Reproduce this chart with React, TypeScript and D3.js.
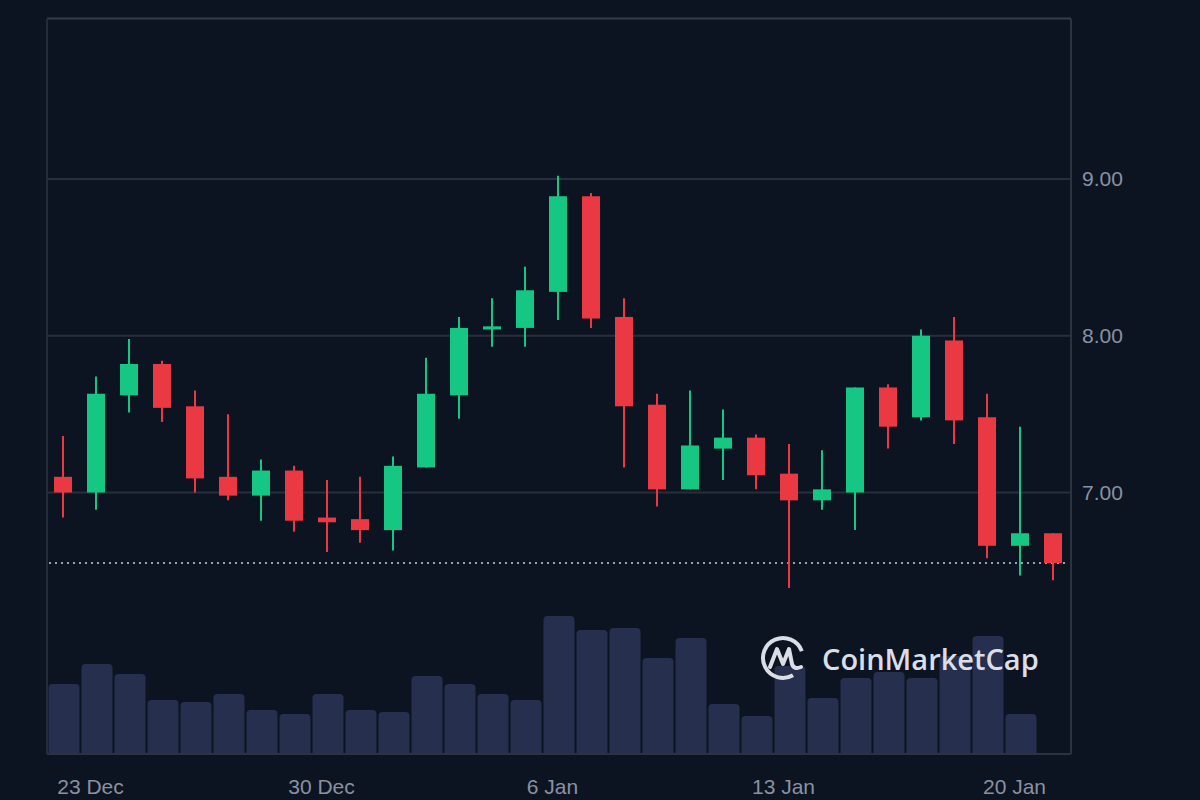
import { useEffect, useRef } from "react";
import * as d3 from "d3";

const width = 1200;
const height = 800;
const box = { left: 47, right: 1071, top: 18.5, bottom: 754 };

const days = [
  "2024-12-22", "2024-12-23", "2024-12-24", "2024-12-25", "2024-12-26", "2024-12-27",
  "2024-12-28", "2024-12-29", "2024-12-30", "2024-12-31", "2025-01-01", "2025-01-02",
  "2025-01-03", "2025-01-04", "2025-01-05", "2025-01-06", "2025-01-07", "2025-01-08",
  "2025-01-09", "2025-01-10", "2025-01-11", "2025-01-12", "2025-01-13", "2025-01-14",
  "2025-01-15", "2025-01-16", "2025-01-17", "2025-01-18", "2025-01-19", "2025-01-20",
  "2025-01-21",
];
const opens = [
  7.10, 7.00, 7.62, 7.82, 7.55, 7.10, 6.98, 7.14, 6.84, 6.83, 6.76, 7.16, 7.62, 8.04, 8.05, 8.28,
  8.89, 8.12, 7.56, 7.02, 7.28, 7.35, 7.12, 6.95, 7.00, 7.67, 7.48, 7.97, 7.48, 6.66, 6.74,
];
const highs = [
  7.36, 7.74, 7.98, 7.84, 7.65, 7.50, 7.21, 7.17, 7.08, 7.10, 7.23, 7.86, 8.12, 8.24, 8.44, 9.02,
  8.91, 8.24, 7.63, 7.65, 7.53, 7.37, 7.31, 7.27, 7.67, 7.69, 8.04, 8.12, 7.63, 7.42, 6.74,
];
const lows = [
  6.84, 6.89, 7.51, 7.45, 7.00, 6.95, 6.82, 6.75, 6.62, 6.68, 6.63, 7.16, 7.47, 7.93, 7.93, 8.10,
  8.05, 7.16, 6.91, 7.02, 7.08, 7.02, 6.39, 6.89, 6.76, 7.28, 7.46, 7.31, 6.58, 6.47, 6.44,
];
const closes = [
  7.00, 7.63, 7.82, 7.54, 7.09, 6.98, 7.14, 6.82, 6.81, 6.76, 7.17, 7.63, 8.05, 8.06, 8.29, 8.89,
  8.11, 7.55, 7.02, 7.30, 7.35, 7.11, 6.95, 7.02, 7.67, 7.42, 8.00, 7.46, 6.66, 6.74, 6.55,
];
// volume in millions, last day has no bar yet
const volumes = [
  14.0, 18.0, 16.0, 10.8, 10.4, 12.0, 8.8, 8.0, 12.0, 8.8, 8.4, 15.6, 14.0, 12.0, 10.8, 27.6,
  24.8, 25.2, 19.2, 23.2, 10.0, 7.6, 17.6, 11.2, 15.2, 16.4, 15.2, 19.6, 23.6, 8.0,
];
const priceTicks = [7, 8, 9];
const dateTicks = ["2024-12-23", "2024-12-30", "2025-01-06", "2025-01-13", "2025-01-20"];

const UP = "#16c784";
const DOWN = "#ea3943";
const BG = "#0d1421";
const LABEL = "#8a91a3";
const FONT = "'Liberation Sans', Arial, sans-serif";

const buildChart = (ref: SVGSVGElement) => {
  const svg = d3.select(ref);
  svg.selectAll("*").remove();

  const candles = days.map((d, i) => ({
    date: new Date(d + "T00:00:00Z"),
    open: opens[i],
    high: highs[i],
    low: lows[i],
    close: closes[i],
    volume: volumes[i],
  }));

  const x = d3
    .scaleUtc()
    .domain([candles[0].date, candles[candles.length - 1].date])
    .range([63, 1053]);
  const y = d3.scaleLinear().domain([7, 9]).range([492.5, 179]);
  const v = d3
    .scaleLinear()
    .domain([0, d3.max(volumes)!])
    .range([box.bottom, 616]);

  svg.append("rect").attr("width", width).attr("height", height).attr("fill", BG);

  // grid
  svg
    .append("g")
    .selectAll("line")
    .data(priceTicks)
    .join("line")
    .attr("x1", box.left)
    .attr("x2", box.right)
    .attr("y1", (d) => y(d))
    .attr("y2", (d) => y(d))
    .attr("stroke", "#262f3b")
    .attr("stroke-width", 2);

  // volume bars
  const step = x(candles[1].date) - x(candles[0].date);
  const barW = step - 2;
  svg
    .append("g")
    .selectAll("path")
    .data(candles.filter((c) => c.volume !== undefined))
    .join("path")
    .attr("fill", "#262f4e")
    .attr("d", (c) => {
      const x0 = x(c.date) - barW / 2 + 1;
      const top = v(c.volume);
      const r = 4;
      const p = d3.path();
      p.moveTo(x0, box.bottom);
      p.lineTo(x0, top + r);
      p.arcTo(x0, top, x0 + r, top, r);
      p.lineTo(x0 + barW - r, top);
      p.arcTo(x0 + barW, top, x0 + barW, top + r, r);
      p.lineTo(x0 + barW, box.bottom);
      p.closePath();
      return p.toString();
    });

  // frame
  const frame = svg.append("g").attr("fill", "none");
  frame
    .append("line")
    .attr("x1", box.left)
    .attr("x2", box.right)
    .attr("y1", box.top)
    .attr("y2", box.top)
    .attr("stroke", "#343c48")
    .attr("stroke-width", 2);
  frame
    .append("line")
    .attr("x1", box.left)
    .attr("x2", box.left)
    .attr("y1", box.top)
    .attr("y2", box.bottom)
    .attr("stroke", "#242c37")
    .attr("stroke-width", 2);
  frame
    .append("line")
    .attr("x1", box.right)
    .attr("x2", box.right)
    .attr("y1", box.top)
    .attr("y2", box.bottom)
    .attr("stroke", "#2b333f")
    .attr("stroke-width", 2);
  frame
    .append("line")
    .attr("x1", box.left)
    .attr("x2", box.right)
    .attr("y1", box.bottom)
    .attr("y2", box.bottom)
    .attr("stroke", "#2b333f")
    .attr("stroke-width", 2);

  // logo
  const logo = svg.append("g").attr("fill", "none").attr("stroke", "#dadee6");
  const cx = 783;
  const cy = 658;
  const arc = d3
    .arc()
    .innerRadius(20)
    .outerRadius(20)
    .startAngle((Math.PI * 150) / 180)
    .endAngle((Math.PI * 430) / 180);
  logo
    .append("path")
    .attr("transform", `translate(${cx},${cy})`)
    .attr("d", arc({} as any) as string)
    .attr("stroke-width", 4)
    .attr("stroke-linecap", "round");
  logo
    .append("path")
    .attr(
      "d",
      `M${cx - 13},${cy + 9} L${cx - 6},${cy - 9} L${cx},${cy + 6} L${cx + 6},${cy - 9} L${cx + 9},${cy + 6} Q${cx + 11},${cy + 12} ${cx + 18},${cy + 9}`
    )
    .attr("stroke-width", 4)
    .attr("stroke-linejoin", "round")
    .attr("stroke-linecap", "round");
  svg
    .append("text")
    .attr("x", 822)
    .attr("y", 670)
    .attr("fill", "#dadee6")
    .style("font-family", "'Open Sans', sans-serif")
    .style("font-weight", 600)
    .style("font-size", "29px")
    .text("CoinMarketCap");

  // current price line
  const last = candles[candles.length - 1];
  svg
    .append("line")
    .attr("x1", box.left + 2)
    .attr("x2", box.right - 3)
    .attr("y1", y(last.close))
    .attr("y2", y(last.close))
    .attr("stroke", "#9aa1ae")
    .attr("stroke-width", 2)
    .attr("stroke-dasharray", "2 4");

  // candles
  const bodyW = 18;
  const g = svg.append("g");
  const items = g
    .selectAll("g")
    .data(candles)
    .join("g")
    .attr("transform", (c) => `translate(${x(c.date)},0)`);
  items
    .append("line")
    .attr("y1", (c) => y(c.high))
    .attr("y2", (c) => y(c.low))
    .attr("stroke", (c) => (c.close >= c.open ? UP : DOWN))
    .attr("stroke-width", 2);
  items
    .append("rect")
    .attr("x", -bodyW / 2)
    .attr("width", bodyW)
    .attr("y", (c) => y(Math.max(c.open, c.close)))
    .attr("height", (c) => Math.max(1, Math.abs(y(c.open) - y(c.close))))
    .attr("fill", (c) => (c.close >= c.open ? UP : DOWN));

  // axes
  const yAxis = svg
    .append("g")
    .attr("transform", `translate(${box.right},0)`)
    .call(
      d3
        .axisRight(y)
        .tickValues(priceTicks)
        .tickSize(0)
        .tickPadding(11)
        .tickFormat(d3.format(".2f") as any)
    );
  const xAxis = svg
    .append("g")
    .attr("transform", `translate(0,${box.bottom})`)
    .call(
      d3
        .axisBottom(x)
        .tickValues(dateTicks.map((d) => new Date(d + "T00:00:00Z")))
        .tickSize(0)
        .tickPadding(25)
        .tickFormat(d3.utcFormat("%-d %b") as any)
    );
  [yAxis, xAxis].forEach((a) => {
    a.select(".domain").remove();
    a.selectAll("text")
      .attr("fill", LABEL)
      .style("font-family", FONT)
      .style("font-size", "21px");
  });
  xAxis.selectAll("text").attr("dx", -6);
};

export default function App() {
  const ref = useRef<SVGSVGElement>(null);
  useEffect(() => {
    if (ref.current) buildChart(ref.current);
  }, []);
  return (
    <svg
      ref={ref}
      width={width}
      height={height}
      style={{ position: "absolute", left: 0, top: 0, display: "block" }}
    />
  );
}
